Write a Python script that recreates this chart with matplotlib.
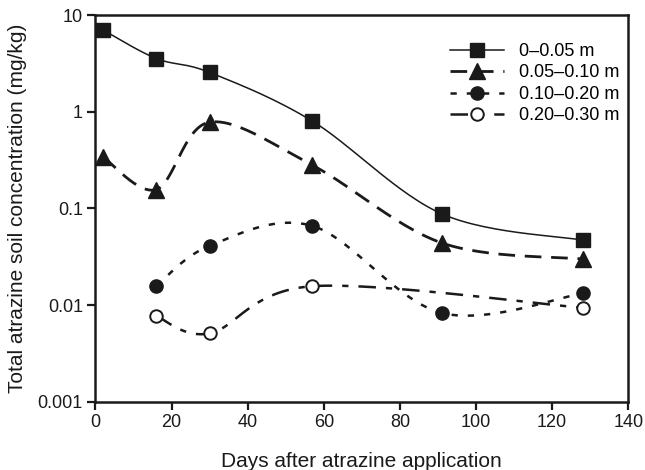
import numpy as np
import matplotlib.pyplot as plt

plt.rcParams['font.family'] = ['Liberation Sans', 'DejaVu Sans']

days_a = [2, 16, 30, 57, 91, 128]
conc_a = [7.0, 3.55, 2.55, 0.80, 0.088, 0.047]

days_b = [2, 16, 30, 57, 91, 128]
conc_b = [0.34, 0.157, 0.78, 0.28, 0.044, 0.030]

days_c = [16, 30, 57, 91, 128]
conc_c = [0.0158, 0.041, 0.066, 0.0083, 0.0132]

days_d = [16, 30, 57, 128]
conc_d = [0.0077, 0.0051, 0.0157, 0.0094]

labels = ['0\u20130.05 m', '0.05\u20130.10 m', '0.10\u20130.20 m', '0.20\u20130.30 m']


def smooth(x, y, n=30):
    # Excel-like smoothed line: Catmull-Rom through points, in (x, log y)
    x = np.asarray(x, float)
    ly = np.log10(np.asarray(y, float))
    px = np.concatenate([[x[0]], x, [x[-1]]])
    py = np.concatenate([[ly[0]], ly, [ly[-1]]])
    xs, ys = [], []
    for i in range(1, len(px) - 2):
        t = np.linspace(0, 1, n)
        for arr, out in ((px, xs), (py, ys)):
            p0, p1, p2, p3 = arr[i - 1], arr[i], arr[i + 1], arr[i + 2]
            out.append(0.5 * ((2 * p1) + (-p0 + p2) * t
                              + (2 * p0 - 5 * p1 + 4 * p2 - p3) * t ** 2
                              + (-p0 + 3 * p1 - 3 * p2 + p3) * t ** 3))
    return np.concatenate(xs), 10 ** np.concatenate(ys)


fig = plt.figure(figsize=(6.45, 4.7), dpi=100)
ax = fig.add_axes([0.148, 0.145, 0.826, 0.823])

ink = '#1a1a1a'
series = [
    (days_a, conc_a, dict(ls='-', lw=1.1), dict(marker='s', ms=10, mfc=ink, mec=ink)),
    (days_b, conc_b, dict(ls=(0, (6, 3.5)), lw=2.0), dict(marker='^', ms=11, mfc=ink, mec=ink)),
    (days_c, conc_c, dict(ls=(0, (2.5, 4)), lw=1.8), dict(marker='o', ms=9.5, mfc=ink, mec=ink)),
    (days_d, conc_d, dict(ls=(0, (7, 4, 2.5, 4)), lw=1.8), dict(marker='o', ms=9, mfc='white', mec=ink, mew=1.4)),
]

for (xd, yd, lstyle, mstyle), lab in zip(series, labels):
    sx, sy = smooth(xd, yd)
    ax.plot(sx, sy, color=ink, **lstyle)
    ax.plot(xd, yd, ls='none', **mstyle)
    ax.plot([], [], color=ink, label=lab, **lstyle, **mstyle)

ax.set_yscale('log')
ax.set_ylim(0.001, 10)
ax.set_xlim(0, 140)
ax.set_xticks(range(0, 141, 20))
ax.set_yticks([0.001, 0.01, 0.1, 1, 10])
ax.set_yticklabels(['0.001', '0.01', '0.1', '1', '10'])
ax.yaxis.set_minor_locator(plt.NullLocator())
ax.tick_params(direction='out', length=6, width=1.6, labelsize=13, colors=ink, pad=3)
for s in ax.spines.values():
    s.set_linewidth(1.8)
    s.set_color(ink)

ax.set_xlabel('Days after atrazine application', fontsize=15, labelpad=15, color=ink)
ax.set_ylabel('Total atrazine soil concentration (mg/kg)', fontsize=15, labelpad=8, color=ink)

ax.legend(loc='upper right', bbox_to_anchor=(1.013, 0.97), frameon=False, fontsize=13,
          handlelength=3.0, labelspacing=0.25, handletextpad=0.8)

fig.savefig('out.png', dpi=100)
